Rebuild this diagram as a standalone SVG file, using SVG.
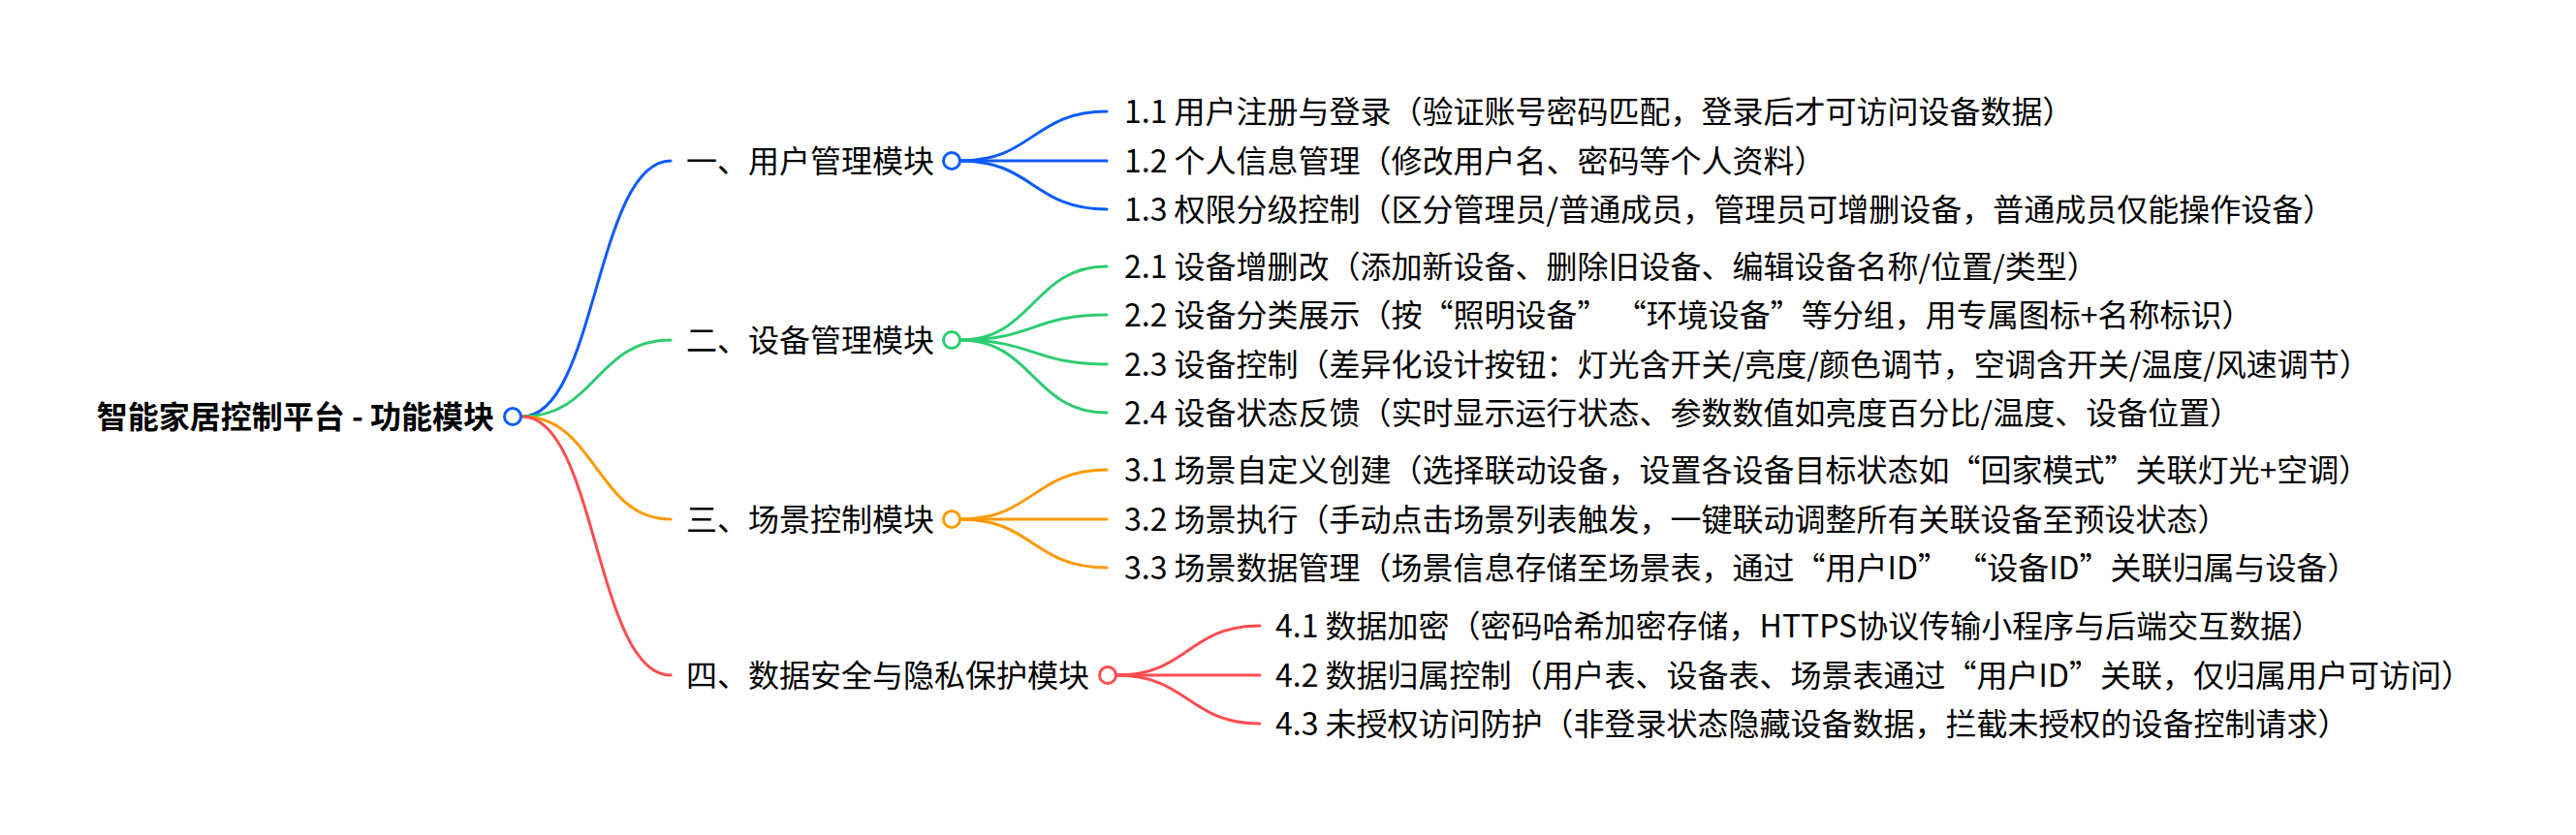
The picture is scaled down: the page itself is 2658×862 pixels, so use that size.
<svg xmlns="http://www.w3.org/2000/svg" width="2658" height="862" viewBox="0 0 2658 862">
<style>
text{font-family:"Noto Sans CJK SC","Microsoft YaHei",sans-serif;font-size:32px;fill:#000}
.root{font-weight:bold}
.end{text-anchor:end}
path{fill:none;stroke-width:3;stroke-linecap:round}
circle{fill:#fff;stroke-width:3}
.b{stroke:#0a5cff}.g{stroke:#2ecc71}.o{stroke:#ff9900}.r{stroke:#ff4d4f}
</style>
<rect width="2658" height="862" fill="#fff"/>
<g id="connectors">
<path class="b" d="M539 430 C615 430 615 166 692 166"/>
<path class="g" d="M539 430 C615 430 615 351 692 351"/>
<path class="o" d="M539 430 C615 430 615 536 692 536"/>
<path class="r" d="M539 430 C615 430 615 697 692 697"/>
<path class="b" d="M991 166 C1066 166 1066 115 1142 115"/>
<path class="b" d="M991 166 L1142 166"/>
<path class="b" d="M991 166 C1066 166 1066 216 1142 216"/>
<path class="g" d="M991 351 C1066 351 1066 275 1142 275"/>
<path class="g" d="M991 351 C1066 351 1066 325 1142 325"/>
<path class="g" d="M991 351 C1066 351 1066 376 1142 376"/>
<path class="g" d="M991 351 C1066 351 1066 426 1142 426"/>
<path class="o" d="M991 536 C1066 536 1066 485 1142 485"/>
<path class="o" d="M991 536 L1142 536"/>
<path class="o" d="M991 536 C1066 536 1066 586 1142 586"/>
<path class="r" d="M1152 697 C1226 697 1226 646 1300 646"/>
<path class="r" d="M1152 697 L1300 697"/>
<path class="r" d="M1152 697 C1226 697 1226 747 1300 747"/>
</g>
<g id="root">
<text class="root end" x="510" y="442">智能家居控制平台 - 功能模块</text>
<circle class="b" cx="529" cy="430" r="8.5"/>
</g>
<g id="n1">
<text x="708" y="178">一、用户管理模块</text>
<circle class="b" cx="982" cy="166" r="8.5"/>
</g>
<g id="n2">
<text x="708" y="363">二、设备管理模块</text>
<circle class="g" cx="982" cy="351" r="8.5"/>
</g>
<g id="n3">
<text x="708" y="548">三、场景控制模块</text>
<circle class="o" cx="982" cy="536" r="8.5"/>
</g>
<g id="n4">
<text x="708" y="709">四、数据安全与隐私保护模块</text>
<circle class="r" cx="1143" cy="697" r="8.5"/>
</g>
<g id="n11"><text x="1160" y="127">1.1 用户注册与登录（验证账号密码匹配，登录后才可访问设备数据）</text></g>
<g id="n12"><text x="1160" y="178">1.2 个人信息管理（修改用户名、密码等个人资料）</text></g>
<g id="n13"><text x="1160" y="228">1.3 权限分级控制（区分管理员/普通成员，管理员可增删设备，普通成员仅能操作设备）</text></g>
<g id="n21"><text x="1160" y="287">2.1 设备增删改（添加新设备、删除旧设备、编辑设备名称/位置/类型）</text></g>
<g id="n22"><text x="1160" y="337">2.2 设备分类展示（按“照明设备” “环境设备”等分组，用专属图标+名称标识）</text></g>
<g id="n23"><text x="1160" y="388">2.3 设备控制（差异化设计按钮：灯光含开关/亮度/颜色调节，空调含开关/温度/风速调节）</text></g>
<g id="n24"><text x="1160" y="438">2.4 设备状态反馈（实时显示运行状态、参数数值如亮度百分比/温度、设备位置）</text></g>
<g id="n31"><text x="1160" y="497">3.1 场景自定义创建（选择联动设备，设置各设备目标状态如“回家模式”关联灯光+空调）</text></g>
<g id="n32"><text x="1160" y="548">3.2 场景执行（手动点击场景列表触发，一键联动调整所有关联设备至预设状态）</text></g>
<g id="n33"><text x="1160" y="598">3.3 场景数据管理（场景信息存储至场景表，通过“用户ID” “设备ID”关联归属与设备）</text></g>
<g id="n41"><text x="1316" y="658">4.1 数据加密（密码哈希加密存储，HTTPS协议传输小程序与后端交互数据）</text></g>
<g id="n42"><text x="1316" y="709">4.2 数据归属控制（用户表、设备表、场景表通过“用户ID”关联，仅归属用户可访问）</text></g>
<g id="n43"><text x="1316" y="759">4.3 未授权访问防护（非登录状态隐藏设备数据，拦截未授权的设备控制请求）</text></g>
</svg>
